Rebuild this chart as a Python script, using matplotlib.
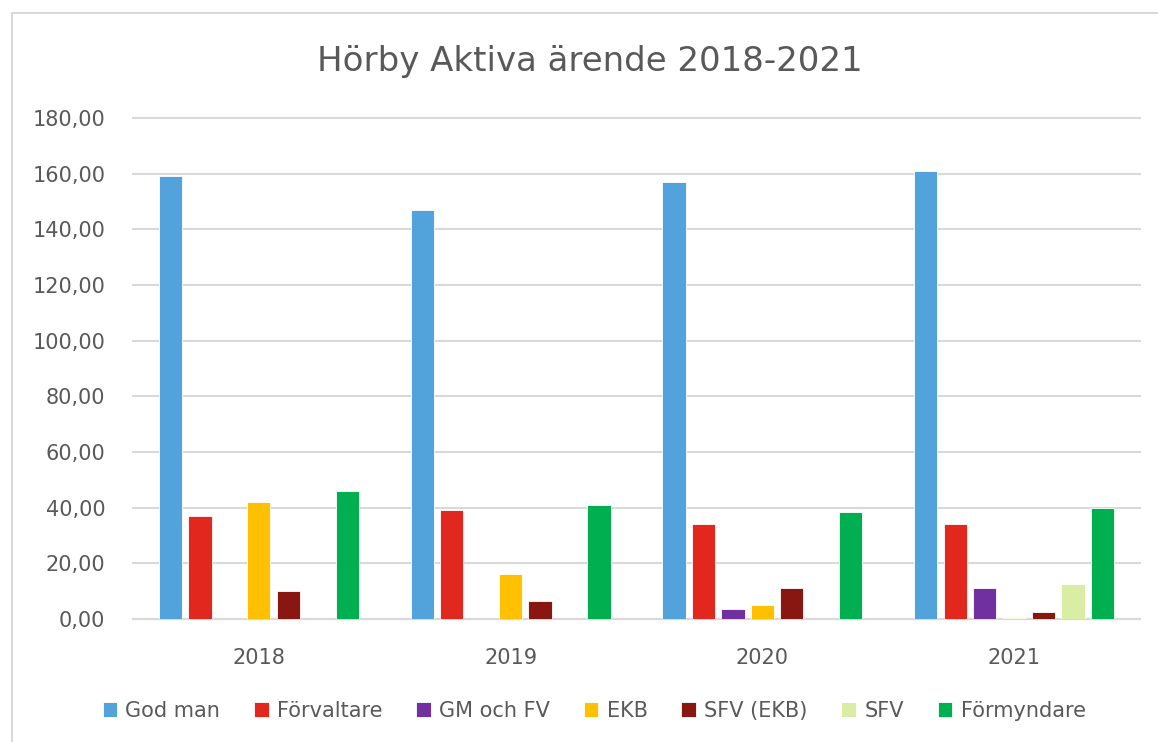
import numpy as np
import matplotlib.pyplot as plt
from matplotlib.patches import Rectangle
from matplotlib.ticker import FuncFormatter

# Data
years = ["2018", "2019", "2020", "2021"]
series = ["God man", "Förvaltare", "GM och FV", "EKB", "SFV (EKB)", "SFV", "Förmyndare"]
god_man = [159, 147, 157, 161]
forvaltare = [37, 39, 34, 34]
gm_och_fv = [0, 0, 3.5, 11]
ekb = [42, 16, 5, 0.5]
sfv_ekb = [10, 6.5, 11, 2.5]
sfv = [0, 0, 0, 12.5]
formyndare = [46, 41, 38.5, 40]
values = [god_man, forvaltare, gm_och_fv, ekb, sfv_ekb, sfv, formyndare]
colors = ["#52A3DB", "#E2271E", "#7030A0", "#FFC000", "#881712", "#DAEDA5", "#00B050"]

fig = plt.figure(figsize=(11.58, 7.42), dpi=100)
ax = fig.add_axes([133 / 1158, 1 - 619 / 742, (1140 - 133) / 1158, (619 - 118) / 742])

x = np.arange(len(years))
step = 0.117
width = 0.092
for j, (name, vals, c) in enumerate(zip(series, values, colors)):
    ax.bar(x + (j - 3) * step, vals, width, color=c, label=name,
           edgecolor="white", linewidth=0.6, zorder=3)

ax.set_xlim(-0.5, 3.5)
ax.set_ylim(0, 180)
ax.set_yticks(np.arange(0, 181, 20))
ax.yaxis.set_major_formatter(FuncFormatter(lambda v, p: f"{v:.2f}".replace(".", ",")))
ax.set_xticks(x)
ax.set_xticklabels(years)
ax.grid(axis="y", color="#D9D9D9", linewidth=1.5, zorder=0)
for line in ax.get_ygridlines():
    line.set_clip_on(False)
for s in ["top", "right", "left"]:
    ax.spines[s].set_visible(False)
ax.spines["bottom"].set_color("#D9D9D9")
ax.spines["bottom"].set_linewidth(1.5)
ax.tick_params(length=0, labelsize=15, colors="#595959")
ax.tick_params(axis="y", pad=20)
ax.tick_params(axis="x", pad=21)

fig.text(0.509, 1 - 62 / 742, "Hörby Aktiva ärende 2018-2021", ha="center", va="center",
         fontsize=24.5, color="#595959")

fig.legend(loc="center", bbox_to_anchor=(0.513, 1 - 711 / 742), ncol=7, frameon=False,
           fontsize=15, labelcolor="#595959", handlelength=0.7, handleheight=0.7,
           handletextpad=0.4, columnspacing=1.62)

fig.patches.append(Rectangle((12 / 1158, -0.1), 1.2, 1 - 13 / 742 + 0.1,
                             transform=fig.transFigure, fill=False,
                             edgecolor="#D9D9D9", linewidth=1.5))

fig.savefig("out.png", dpi=100)
